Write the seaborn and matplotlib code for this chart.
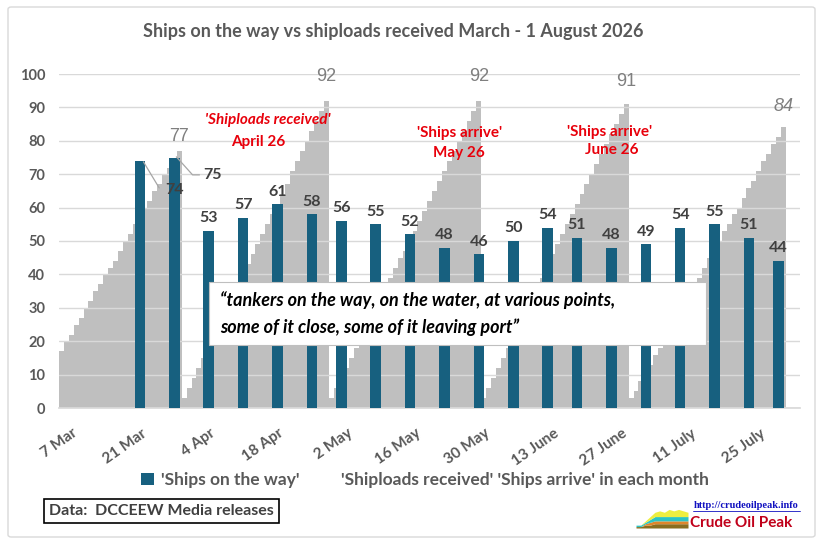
import matplotlib

matplotlib.use("Agg")
import matplotlib.pyplot as plt
import matplotlib.transforms as mtransforms
import numpy as np
import pandas as pd
import seaborn as sns
from matplotlib import font_manager
from matplotlib.patches import FancyBboxPatch, Patch, Rectangle

# daily cumulative 'shiploads received' / 'ships arrive' per month (from 7 Mar)
march_received = [17, 20, 22, 25, 27, 30, 32, 35, 37, 40, 42, 44, 47, 50, 52, 55, 57,
                  60, 62, 65, 67, 70, 72, 75, 77]
april_received = [3, 6, 9, 12, 15, 18, 21, 25, 28, 31, 34, 37, 40, 43, 46, 49, 52, 55,
                  58, 61, 64, 67, 71, 74, 77, 80, 83, 86, 89, 92]
may_arrive = [3, 6, 9, 12, 15, 18, 21, 24, 27, 30, 33, 36, 39, 42, 45, 47, 50, 53, 56,
              59, 62, 65, 68, 71, 74, 77, 80, 83, 86, 89, 92]
june_arrive = [3, 6, 9, 12, 15, 18, 21, 24, 27, 30, 33, 36, 39, 42, 46, 49, 52, 55, 58,
               61, 64, 67, 70, 73, 76, 79, 82, 85, 88, 91]
july_arrive = [3, 5, 8, 11, 13, 16, 18, 21, 24, 26, 29, 32, 34, 37, 39, 42, 45, 47, 50,
               53, 55, 58, 60, 63, 66, 68, 71, 74, 76, 79, 81, 84]

# weekly 'ships on the way'
ship_dates = ["2026-03-23", "2026-03-30", "2026-04-06", "2026-04-13", "2026-04-20",
              "2026-04-27", "2026-05-03", "2026-05-10", "2026-05-17", "2026-05-24",
              "2026-05-31", "2026-06-07", "2026-06-14", "2026-06-20", "2026-06-27",
              "2026-07-04", "2026-07-11", "2026-07-18", "2026-07-25", "2026-07-31"]
ships_on_way = [74, 75, 53, 57, 61, 58, 56, 55, 52, 48, 46, 50, 54, 51, 48, 49, 54, 55,
                51, 44]

start_date = "2026-03-07"
tick_dates = ["2026-03-07", "2026-03-21", "2026-04-04", "2026-04-18", "2026-05-02",
              "2026-05-16", "2026-05-30", "2026-06-13", "2026-06-27", "2026-07-11",
              "2026-07-25"]
tick_labels = ["7 Mar", "21 Mar", "4 Apr", "18 Apr", "2 May", "16 May", "30 May",
               "13 June", "27 June", "11 July", "25 July"]

# small logo area chart
logo_x = [0, 1, 2, 3, 4, 5, 6, 7, 8, 9, 10, 11]
logo_layers = [
    [1, 1, 2, 2, 3, 3, 3, 3, 3, 3, 3, 3],
    [0, 0, 1, 2, 2, 2, 2, 2, 2, 2, 2, 2],
    [1, 1, 1, 2, 3, 3, 3, 3, 3, 3, 3, 3],
    [0, 0, 1, 2, 3, 4, 3, 5, 4, 5, 4, 3],
]
logo_colors = ["#8a6d1e", "#e0862a", "#2cc4c4", "#eeee40"]

BLUE = "#17607f"
GREY = "#bfbfbf"
TXT = "#595959"
RED = "#e8000b"

sns.set_theme(style="white")
avail = {f.name for f in font_manager.fontManager.ttflist}
narrow = "Liberation Sans Narrow" if "Liberation Sans Narrow" in avail else "Lato"
plt.rcParams["font.family"] = [narrow, "DejaVu Sans"]

months = [march_received, april_received, may_arrive, june_arrive, july_arrive]
received = sum(months, [])
days = np.arange(len(received))
t0 = pd.Timestamp(start_date)
ship_idx = (pd.to_datetime(ship_dates) - t0).days.values
tick_idx = (pd.to_datetime(tick_dates) - t0).days.values

W, H = 824, 544
fig = plt.figure(figsize=(W / 100, H / 100), dpi=100)
ax = fig.add_axes([59 / W, 1 - 408 / H, 741 / W, 334 / H])

# grey daily bars under the gridlines, blue weekly bars above them
sns.barplot(x=days, y=received, native_scale=True, width=1.0, color=GREY,
            saturation=1, errorbar=None, linewidth=0, antialiased=False, ax=ax,
            zorder=1)
sns.barplot(x=ship_idx, y=ships_on_way, native_scale=True, width=2.16 / 6,
            color=BLUE, saturation=1, errorbar=None, linewidth=0, ax=ax, zorder=3)

ax.set_xlim(-0.5, 150.4)
ax.set_ylim(0, 100)
ax.set_yticks(range(0, 101, 10))
ax.set_xticks([])
ax.set(xlabel="", ylabel="")
ax.set_axisbelow("line")
ax.grid(axis="y", color="#d9d9d9", lw=1)
for s in ["top", "right", "left"]:
    ax.spines[s].set_visible(False)
ax.spines["bottom"].set_color("#d9d9d9")
ax.tick_params(axis="y", length=0, pad=10, labelsize=10.5, labelcolor=TXT)
for lbl in ax.get_yticklabels():
    lbl.set_fontweight("bold")

# rotated date labels
off = mtransforms.ScaledTranslation(0.145, -0.24, fig.dpi_scale_trans)
for pos, lab in zip(tick_idx, tick_labels):
    ax.text(pos, 0, lab, transform=ax.get_xaxis_transform() + off, rotation=35,
            rotation_mode="anchor", ha="right", va="center", fontsize=11,
            fontweight="bold", color=TXT)

# labels on blue bars
for x, v in zip(ship_idx, ships_on_way):
    if v in (74, 75) and x < 30:
        continue
    ax.annotate(str(v), (x, v), xytext=(0, 4), textcoords="offset points",
                ha="center", va="bottom", fontsize=11.5, fontweight="bold",
                color="#404040", zorder=6)
# moved labels with leader lines
ax.plot([16.7, 19.9], [73.7, 65.9], color="#a6a6a6", lw=0.9, zorder=5)
ax.text(21.2, 65.3, "74", ha="left", va="center", fontsize=11.5, fontweight="bold",
        color="#404040", zorder=6)
ax.plot([23.4, 26.7, 28.1], [75.2, 69.8, 69.8], color="#a6a6a6", lw=0.9, zorder=5)
ax.text(28.8, 69.8, "75", ha="left", va="center", fontsize=11.5, fontweight="bold",
        color="#404040", zorder=6)

# peak labels of grey series
ends = np.cumsum([len(m) for m in months]) - 1
peak_off = [4, 11, 11, 10, 9]
for i, (e, m) in enumerate(zip(ends, months)):
    ax.annotate(str(m[-1]), (e, m[-1]), xytext=(0, peak_off[i]),
                textcoords="offset points", ha="center", va="bottom", fontsize=13,
                color="#7f7f7f", family=["Liberation Sans", "DejaVu Sans"],
                style="italic" if i == 4 else "normal", zorder=6)

# red annotations
red_kw = dict(ha="center", va="center", fontsize=11, fontweight="bold", color=RED,
              zorder=6)
ax.text(42.1, 86.2, "'Shiploads received'", style="italic", **red_kw)
ax.text(40.0, 79.6, "April 26", **red_kw)
ax.text(81.0, 82.4, "'Ships arrive'", **red_kw)
ax.text(81.0, 76.4, "May 26", **red_kw)
ax.text(111.7, 82.7, "'Ships arrive'", **red_kw)
ax.text(112.1, 77.2, "June 26", **red_kw)

# quote box
fig.patches.append(Rectangle((209 / W, 1 - 345 / H), 497 / W, 63 / H,
                             transform=fig.transFigure, facecolor="white",
                             edgecolor="#bfbfbf", lw=0.8, zorder=10))
fig.text(220 / W, 1 - 300 / H,
         "\u201ctankers on the way, on the water, at various points,",
         fontsize=13, fontweight="bold", style="italic", color="black", va="center",
         zorder=11)
fig.text(220 / W, 1 - 327 / H, "some of it close, some of it leaving port\u201d",
         fontsize=13, fontweight="bold", style="italic", color="black", va="center",
         zorder=11)

# title
fig.text(393 / W, 1 - 31 / H,
         "Ships on the way vs shiploads received March - 1 August 2026",
         ha="center", va="center", fontsize=13, fontweight="bold", color=TXT)

# legend
handles = [Patch(facecolor=BLUE, edgecolor="none"),
           Patch(facecolor="none", edgecolor="none")]
labels = ["'Ships on the way'", "'Shiploads received' 'Ships arrive' in each month"]
leg = fig.legend(handles, labels, loc="center", bbox_to_anchor=(425 / W, 1 - 480 / H),
                 ncol=2, frameon=False, handlelength=0.75, handleheight=0.75,
                 handletextpad=0.4, columnspacing=1.2, fontsize=12.5)
for t in leg.get_texts():
    t.set_color(TXT)
    t.set_fontweight("bold")

# data source box
fig.text(49 / W, 1 - 511 / H, "Data:  DCCEEW Media releases", ha="left", va="center",
         fontsize=11.5, fontweight="bold", color="#404040",
         bbox=dict(boxstyle="square,pad=0.3", facecolor="white", edgecolor="black",
                   lw=1.2))

# logo
lax = fig.add_axes([636 / W, 1 - 528 / H, 52 / W, 20 / H])
lax.stackplot(logo_x, *logo_layers, colors=logo_colors, lw=0)
lax.set_xlim(0, 11)
lax.set_ylim(0, 14)
lax.axis("off")
fig.text(746 / W, 1 - 506 / H, "http://crudeoilpeak.info", ha="center", va="center",
         fontsize=7.5, fontweight="bold", color="#1010c0",
         family=["Liberation Serif", "DejaVu Serif"])
fig.add_artist(plt.Line2D([693 / W, 800 / W], [1 - 511 / H, 1 - 511 / H],
                          transform=fig.transFigure, color="#1010c0", lw=0.6))
fig.text(690 / W, 1 - 523 / H, "Crude Oil Peak", ha="left", va="center",
         fontsize=11, fontweight="bold", color="#c0001a")

# outer chart border
fig.patches.append(FancyBboxPatch((8 / W, 1 - 537 / H), 807 / W, 530 / H,
                                  boxstyle="round,pad=0,rounding_size=0.004",
                                  transform=fig.transFigure, facecolor="none",
                                  edgecolor="#d9d9d9", lw=1))

fig.savefig("out.png", dpi=100)
